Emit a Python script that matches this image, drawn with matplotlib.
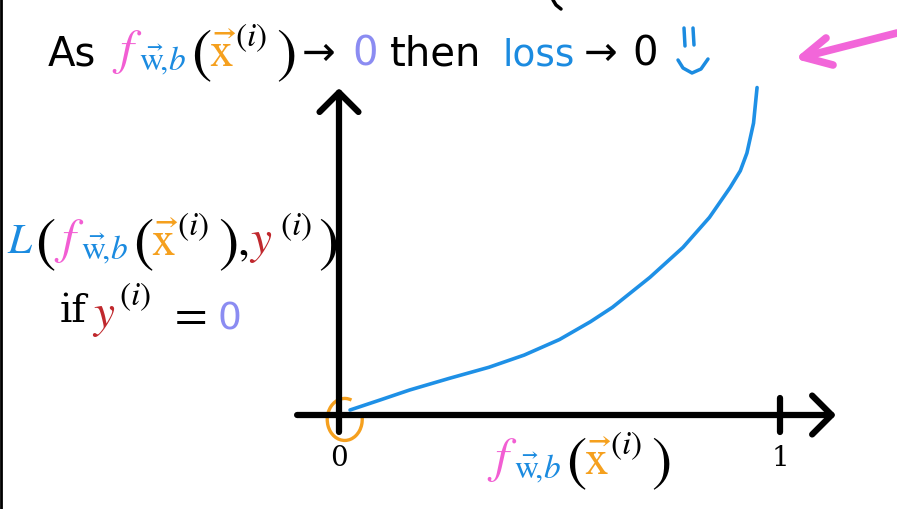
import numpy as np
import matplotlib.pyplot as plt
from matplotlib.patches import Arc

plt.rcParams['mathtext.fontset'] = 'stix'
plt.rcParams['font.family'] = ['DejaVu Sans']

# values (loss when y = 0)
f_vals = [0.025, 0.093, 0.16, 0.25, 0.34, 0.42, 0.50, 0.57, 0.62, 0.705,
          0.78, 0.84, 0.887, 0.91, 0.925, 0.94, 0.948]
loss_vals = [0.045, 0.135, 0.225, 0.33, 0.43, 0.54, 0.68, 0.84, 0.97, 1.24,
             1.51, 1.78, 2.05, 2.2, 2.36, 2.63, 2.95]
tick_vals = [0, 1]
tick_labels = ['0', '1']

PINK = '#f25ed3'
BLUE = '#1b8be0'
ORANGE = '#f5a01e'
RED = '#c0282d'
LAVENDER = '#8b8cf2'
CURVE = '#1e90e6'

W, H = 897, 509
X0, Y0 = 339, 415   # origin in pixels
SX, SY = 441, 111   # pixels per unit

fig = plt.figure(figsize=(W / 100, H / 100), dpi=100)
fig.patch.set_facecolor('white')

ax = fig.add_axes([0, 0, 1, 1])
ax.set_xlim(-X0 / SX, (W - X0) / SX)
ax.set_ylim((Y0 - H) / SY, Y0 / SY)
ax.axis('off')

deco = fig.add_axes([0, 0, 1, 1], facecolor='none')
deco.set_xlim(0, W)
deco.set_ylim(H, 0)
deco.axis('off')

# axes with open arrow heads
arrow = dict(arrowstyle='->,head_length=0.7,head_width=0.7', lw=4.5, color='black',
             shrinkA=0, shrinkB=0, mutation_scale=20, joinstyle='round', capstyle='round')
ax.annotate('', xy=(1.127, 0), xytext=(-0.095, 0), arrowprops=arrow)
ax.annotate('', xy=(0, 2.945), xytext=(0, -0.153), arrowprops=arrow)
ax.plot([1, 1], [-0.153, 0.153], color='black', lw=4.5, solid_capstyle='round')

for t, lab in zip(tick_vals, tick_labels):
    ax.text(t, -0.46, lab, ha='center', va='baseline', fontsize=20,
            family='DejaVu Serif')

# the loss curve
ax.plot(f_vals, loss_vals, color=CURVE, lw=2.6, solid_capstyle='round',
        solid_joinstyle='round')

# orange circle around origin
ax.add_patch(Arc((0.013, -0.04), 35 / SX, 42 / SY, theta1=85, theta2=380,
                 color=ORANGE, lw=2.4))


def txt(x, y, s, color='black', size=30, **kw):
    deco.text(x, y, s, color=color, fontsize=size, ha='left', va='baseline', **kw)


def fx(x0, y0):
    txt(x0, y0, r'$f$', PINK, 36)
    txt(x0 + 27, y0 + 6, r'$\vec{\mathrm{w}}\!,\!b$', BLUE, 24)
    txt(x0 + 79, y0 + 7, r'$($', 'black', 44)
    txt(x0 + 97, y0 + 3, r'$\vec{\mathrm{x}}$', ORANGE, 34)
    txt(x0 + 123, y0 - 18, r'$(i)$', 'black', 24)
    txt(x0 + 164, y0 + 7, r'$)$', 'black', 44)


# title line
txt(48, 65, 'As', size=29)
fx(112, 64)
txt(302, 65, '→', size=29)
txt(352, 65, '0', LAVENDER, 29)
txt(390, 65, 'then', size=29)
txt(502, 65, 'loss', BLUE, 27)
txt(584, 65, '→', size=29)
txt(632, 65, '0', size=29)

# y label
txt(7, 253, r'$L$', BLUE, 31)
txt(35, 260, r'$($', 'black', 44)
fx(54, 253)
txt(237, 255, r'$,$', 'black', 34)
txt(249, 253, r'$y$', RED, 34)
txt(280, 235, r'$(i)$', 'black', 24)
txt(318, 260, r'$)$', 'black', 44)

txt(60, 322, 'if', size=28, family='DejaVu Serif')
txt(92, 327, r'$y$', RED, 34)
txt(119, 305, r'$(i)$', 'black', 24)
txt(168, 328, r'$=$', 'black', 34)
txt(217, 330, '0', LAVENDER, 27)

# x label
fx(487, 472)

# hand-drawn marks
kw = dict(solid_capstyle='round', solid_joinstyle='round')
deco.plot([897, 803], [33, 57], color='#f266d9', lw=5.5, **kw)
deco.plot([826, 803, 833], [38, 57, 65], color='#f266d9', lw=5.5, **kw)
deco.plot([684, 685], [28, 46], color=BLUE, lw=2.5, **kw)
deco.plot([693, 694], [28, 45], color=BLUE, lw=2.5, **kw)
deco.plot([678, 683, 692, 701, 708], [60, 68, 73, 69, 59], color=BLUE, lw=2.5, **kw)
deco.plot([553, 556, 561], [0, 5, 9], color='black', lw=2.5, **kw)
deco.plot([1, 1], [0, H], color='black', lw=2)

fig.savefig('out.png', dpi=100, facecolor='white')
